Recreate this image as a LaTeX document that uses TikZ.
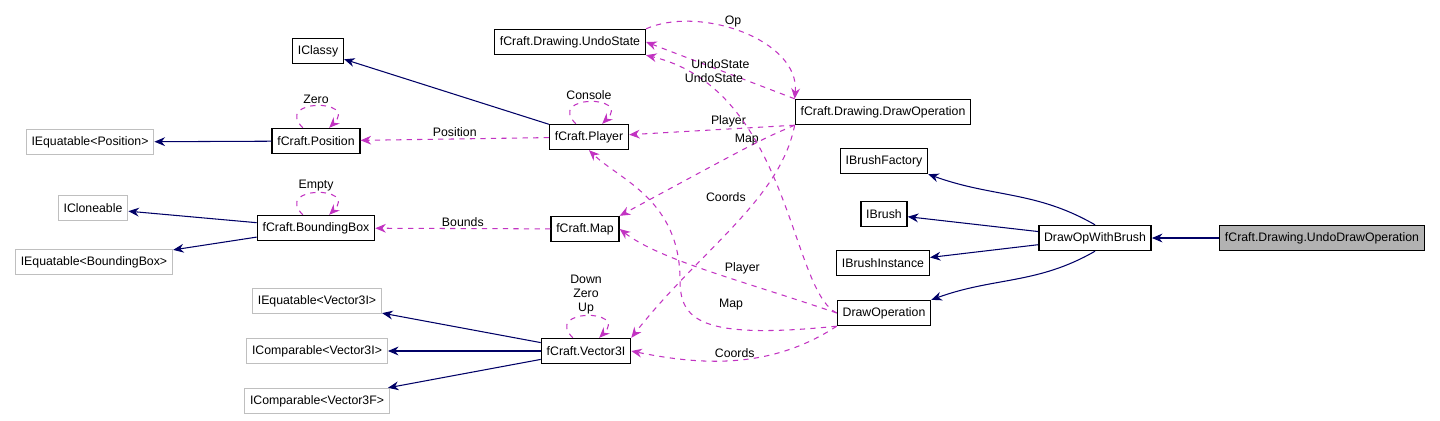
\documentclass[tikz,border=0pt]{standalone}
\usepackage{fontspec}
\setmainfont{Liberation Sans}
\usetikzlibrary{arrows.meta}
\colorlet{use edge}{violet!60!magenta!80}
\colorlet{inherit edge}{blue!40!black}
\tikzset{
  cls/.style={draw=black, thick, inner sep=3pt, minimum height=0.5cm, font=\fontsize{7}{8}\selectfont},
  ext/.style={cls, draw=gray!50},
  inherit/.style={draw=inherit edge, semithick, -{Stealth[length=6pt,width=5pt]}},
  uses/.style={draw=use edge, semithick, dashed, -{Stealth[length=6pt,width=5pt]}},
  lbl/.style={font=\fontsize{7}{8}\selectfont, inner sep=1pt}
  }
\begin{document}
\begin{tikzpicture}[x=0.02cm, y=0.02cm]
    \useasboundingbox (0,0) rectangle (1440,-420);

    % the classes
    \foreach \pos/\name/\txt in {{(570,-42)/undostate/fCraft.Drawing.UndoState}, {(318,-51)/iclassy/IClassy},
      {(883,-112)/drawop/fCraft.Drawing.DrawOperation}, {(316,-141)/position/fCraft.Position},
      {(589,-137)/player/fCraft.Player}, {(884,-161)/ibrushfactory/IBrushFactory},
      {(316,-228)/bbox/fCraft.BoundingBox}, {(585,-229)/map/fCraft.Map}, {(884,-214)/ibrush/IBrush},
      {(1095,-238)/withbrush/DrawOpWithBrush}, {(883,-263)/ibrushinst/IBrushInstance},
      {(884,-313)/drawoperation/DrawOperation}, {(586,-351)/vector/fCraft.Vector3I}} {
      \node[cls] (\name) at \pos {\txt};
    }
    \node[cls, fill=gray!60] (undodraw) at (1322,-238) {fCraft.Drawing.UndoDrawOperation};

    % the outside interfaces
    \foreach \pos/\name/\txt in {{(90,-142)/eqpos/IEquatable<Position>}, {(93,-208)/icloneable/ICloneable},
      {(94,-262)/eqbbox/IEquatable<BoundingBox>}, {(317,-301)/eqvec/IEquatable<Vector3I>},
      {(317,-351)/cmpvec/IComparable<Vector3I>}, {(317,-401)/cmpvecf/IComparable<Vector3F>}} {
      \node[ext] (\name) at \pos {\txt};
    }

    % inheritance
    \foreach \source/\sink in {player/iclassy, position/eqpos, bbox/icloneable, bbox/eqbbox,
      vector/eqvec, vector/cmpvec, vector/cmpvecf, withbrush/ibrush, withbrush/ibrushinst,
      undodraw/withbrush} {
      \path[inherit] (\source) -- (\sink);
    }
    \path[inherit] (withbrush.north) to[out=150, in=-20] (ibrushfactory.south east);
    \path[inherit] (withbrush.south) to[out=-150, in=20] (drawoperation.north east);

    % usage
    \path[uses] (position) to[out=135, in=45, looseness=4] node[lbl, above] {Zero} (position);
    \path[uses] (player) to[out=135, in=45, looseness=4] node[lbl, above] {Console} (player);
    \path[uses] (bbox) to[out=135, in=45, looseness=4] node[lbl, above] {Empty} (bbox);
    \path[uses] (vector) to[out=135, in=45, looseness=4]
      node[lbl, above, align=center] {Down\\Zero\\Up} (vector);
    \path[uses] (player) -- node[lbl, above] {Position} (position);
    \path[uses] (map) -- node[lbl, above] {Bounds} (bbox);
    \path[uses] (drawop.south west) -- node[lbl, above, pos=0.4] {Player} (player);
    \path[uses] (drawop.north west) -- node[lbl, above, pos=0.5] {UndoState} (undostate.east);
    \path[uses] (undostate.north east) .. controls (700,-5) and (800,-40) .. node[lbl, above, pos=0.45] {Op} (drawop.north west);
    \path[uses] (drawop.south west) .. controls (760,-140) .. node[lbl, above, pos=0.5] {Map} (map.north east);
    \path[uses] (drawop.south west) .. controls (780,-200) and (700,-250) .. node[lbl, pos=0.35, left=6pt] {Coords} (vector.north east);
    \path[uses] (drawoperation.west) .. controls (790,-290) and (790,-90) .. (undostate.south east);
    \node[lbl] at (714,-78) {UndoState};
    \path[uses] (drawoperation.west) .. controls (740,-280) and (660,-260) .. node[lbl, pos=0.35, above=3pt] {Player} (map.east);
    \path[uses] (drawoperation.south west) .. controls (700,-340) and (680,-320) .. (680,-280)
      .. controls (680,-200) and (620,-180) .. (player.south);
    \node[lbl] at (731,-305) {Map};
    \path[uses] (drawoperation.south west) .. controls (770,-370) and (700,-365) .. node[lbl, above, pos=0.5] {Coords} (vector.east);
\end{tikzpicture}
\end{document}
